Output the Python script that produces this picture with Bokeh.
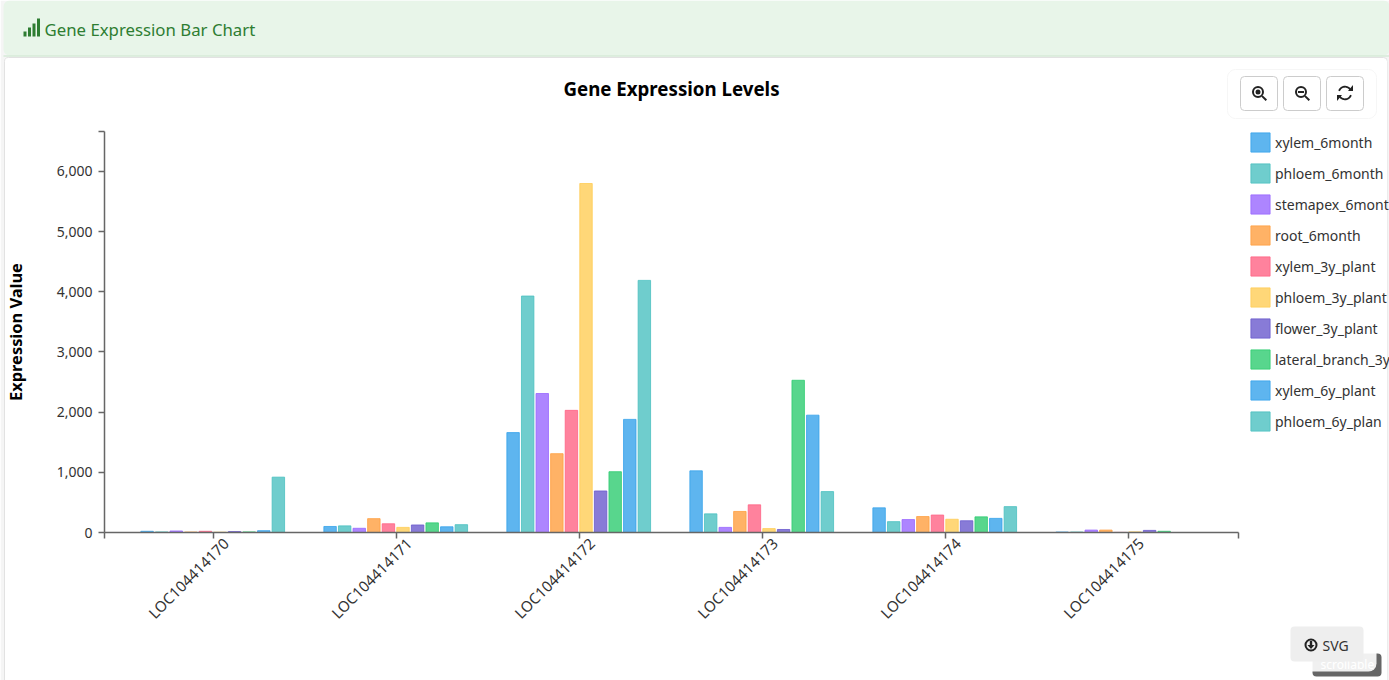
import math
import numpy as np
from bokeh.plotting import figure
from bokeh.embed import file_html
from bokeh.resources import INLINE
from bokeh.models import (Range1d, FixedTicker, NumeralTickFormatter, Legend, LegendItem,
                          BoxAnnotation, PolyAnnotation, Label, LinearAxis)

genes = ["LOC104414170", "LOC104414171", "LOC104414172", "LOC104414173", "LOC104414174", "LOC104414175"]
series_names = ["xylem_6month", "phloem_6month", "stemapex_6month", "root_6month", "xylem_3y_plant",
                "phloem_3y_plant", "flower_3y_plant", "lateral_branch_3y", "xylem_6y_plant", "phloem_6y_plan"]
colors = ["#36A2EB", "#4BC0C0", "#9966FF", "#FF9F40", "#FF6384", "#FFCD56", "#6A5ACD", "#2ECC71", "#36A2EB", "#4BC0C0"]
xylem_6month = [20, 100, 1660, 1025, 410, 8]
phloem_6month = [10, 110, 3930, 310, 180, 8]
stemapex_6month = [25, 70, 2310, 85, 215, 40]
root_6month = [8, 230, 1310, 350, 265, 40]
xylem_3y_plant = [20, 145, 2030, 460, 290, 2]
phloem_3y_plant = [5, 85, 5800, 65, 220, 10]
flower_3y_plant = [15, 125, 690, 50, 195, 35]
lateral_branch_3y = [10, 160, 1010, 2530, 260, 20]
xylem_6y_plant = [30, 95, 1880, 1950, 235, 0]
phloem_6y_plant = [920, 130, 4190, 680, 430, 0]
all_series = [xylem_6month, phloem_6month, stemapex_6month, root_6month, xylem_3y_plant,
              phloem_3y_plant, flower_3y_plant, lateral_branch_3y, xylem_6y_plant, phloem_6y_plant]
y_ticks = [0, 1000, 2000, 3000, 4000, 5000, 6000]

FONT = "Noto Sans"
TXT = "#333333"
AX = "#666666"
Y_MAX = 6664
X_PAD = 0.598
W, H = 1389, 680
PX_X = 183.0      # pixels per gene
PX_Y = 0.06017    # pixels per expression unit
BASE = 532

x0 = -X_PAD - 104 / PX_X
x1 = x0 + W / PX_X
y1 = BASE / PX_Y
y0 = y1 - H / PX_Y
LABEL_SHIFT = 12 / PX_X

p = figure(width=W, height=H, output_backend="svg", toolbar_location=None,
           x_range=Range1d(x0, x1), y_range=Range1d(y0, y1),
           min_border=0, min_border_left=0, min_border_right=0, min_border_top=0, min_border_bottom=0)
p.extra_x_ranges = {"labels": Range1d(x0 - LABEL_SHIFT, x1 - LABEL_SHIFT)}
p.outline_line_color = None
p.grid.visible = False
p.border_fill_color = "white"


def box(l, t, r, b, fill, alpha=1.0, line=None, radius=0, level="annotation", lw=1):
    bx = BoxAnnotation(left=l, right=r, top=t, bottom=b, left_units="canvas", right_units="canvas",
                       top_units="canvas", bottom_units="canvas", fill_color=fill, fill_alpha=alpha,
                       line_color=line, line_alpha=1, line_width=lw, border_radius=radius, level=level,
                       editable=False)
    p.add_layout(bx)
    return bx


def text(x, y, s, size, color=TXT, style="normal", align="left", font=FONT, level="annotation"):
    p.add_layout(Label(x=x, y=y, x_units="canvas", y_units="canvas", text=s, text_font=font,
                       text_font_size=size, text_color=color, text_font_style=style, text_align=align,
                       text_baseline="middle", level=level))


def poly(xs, ys, fill, line=None, lw=1):
    p.add_layout(PolyAnnotation(xs=list(xs), ys=list(ys), xs_units="canvas", ys_units="canvas",
                                fill_color=fill, fill_alpha=1, line_color=line, line_width=lw,
                                line_alpha=1 if line else 0, level="annotation", editable=False))


# page chrome
box(0, 0, W, H, "#F5F5F5", level="underlay")
box(3, 0, W, 55, "#E8F5E9", level="underlay", radius=6)
box(3, 55, W, 56, "#C8E6C9", level="underlay")
box(4, 57, 1387, H + 4, "#FFFFFF", level="underlay", line="#E2E2E2", radius=4)

# header
ICON_GREEN = "#2E7D32"
for l, t, r in [(23, 31, 26), (27.5, 27, 30.5), (32, 23, 35), (36.5, 18, 39.5)]:
    box(l, t, r, 36, ICON_GREEN)
text(44, 28.5, "Gene Expression Bar Chart", "16.8px", ICON_GREEN)
text(671, 87.5, "Gene Expression Levels", "18.7px", "#000000", "bold", "center")

# bars
n = len(all_series)
STEP = 0.0797
WIDTH = 0.068
CENTER_OFFSET = -0.0066
legend_items = []
for j, (name, vals, col) in enumerate(zip(series_names, all_series, colors)):
    xs = [i + CENTER_OFFSET + (j - (n - 1) / 2) * STEP for i in range(len(genes))]
    r = p.vbar(x=xs, top=vals, bottom=0, width=WIDTH, fill_color=col, fill_alpha=0.8,
               line_color=col, line_alpha=0.8, line_width=1)
    legend_items.append(LegendItem(label=name, renderers=[r]))

# axes
x_end = len(genes) - 1 + X_PAD
xa = p.xaxis[0]
xa.fixed_location = 0
xa.bounds = (-X_PAD, x_end)
xa.ticker = FixedTicker(ticks=[-X_PAD] + list(range(len(genes))) + [x_end])
xa.major_label_text_alpha = 0
xa.major_label_text_font_size = "1px"

xl = LinearAxis(x_range_name="labels", fixed_location=0, ticker=FixedTicker(ticks=list(range(len(genes)))),
                major_label_overrides={i: g for i, g in enumerate(genes)},
                major_label_orientation=math.pi / 4, axis_line_color=None, major_tick_line_color=None,
                minor_tick_line_color=None, major_tick_out=6, major_tick_in=0,
                major_label_standoff=2, major_label_text_font=FONT, major_label_text_font_size="15px",
                major_label_text_color=TXT)
p.add_layout(xl, "below")

ya = p.yaxis[0]
ya.fixed_location = -X_PAD
ya.bounds = (0, Y_MAX)
ya.ticker = FixedTicker(ticks=y_ticks + [Y_MAX])
ya.formatter = NumeralTickFormatter(format="0,0")
ya.major_label_overrides = {Y_MAX: ""}
ya.axis_label = "Expression Value"
ya.axis_label_text_font = FONT
ya.axis_label_text_font_size = "16.4px"
ya.axis_label_text_font_style = "bold"
ya.axis_label_text_color = "black"
ya.axis_label_standoff = 27
ya.major_label_text_font = FONT
ya.major_label_text_font_size = "14px"
ya.major_label_text_color = TXT
ya.major_label_standoff = 6
for a in (xa, ya):
    a.axis_line_color = AX
    a.axis_line_width = 1.5
    a.major_tick_line_color = AX
    a.major_tick_line_width = 1.5
    a.major_tick_out = 6
    a.major_tick_in = 0
    a.minor_tick_line_color = None

# legend
legend = Legend(items=legend_items, location=(1248, 247), orientation="vertical",
                background_fill_alpha=0, border_line_color=None, margin=0, padding=0,
                spacing=7, glyph_width=24, glyph_height=24, label_height=24, label_width=100,
                label_standoff=3, label_text_font=FONT, label_text_font_size="14px",
                label_text_color=TXT, label_text_baseline="middle")
p.add_layout(legend, "center")
box(1387, 57, W, H, "#F5F5F5", level="overlay")

# zoom/reset toolbar
box(1227, 69, 1376, 118, "#FFFFFF", line="#F6F6F6", radius=8)
for l in (1240, 1283, 1326):
    box(l, 76, l + 37, 110, "#FFFFFF", line="#CCCCCC", radius=4)
DARK = "#222222"


def loupe(cx, cy):
    box(cx - 5, cy - 5, cx + 5, cy + 5, "#FFFFFF", line=DARK, radius=5, lw=2)
    poly([cx + 3.4, cx + 4.8, cx + 9, cx + 7.6], [cy + 4.8, cy + 3.4, cy + 7.6, cy + 9], DARK)


loupe(1257.5, 91.5)
box(1255, 89, 1260, 94, DARK, radius=3)
loupe(1300.5, 91.5)
box(1297.5, 90.5, 1303.5, 92.5, DARK)

cx, cy, ro, ri = 1344.5, 92.5, 7.2, 5.4
for a0, a1 in [(200, 335), (20, 155)]:
    th = np.radians(np.linspace(a0, a1, 16))
    poly(np.r_[cx + ro * np.cos(th), cx + ri * np.cos(th[::-1])],
         np.r_[cy + ro * np.sin(th), cy + ri * np.sin(th[::-1])], DARK)
poly([cx + 8, cx + 8, cx + 3], [cy - 8, cy - 2, cy - 2], DARK)
poly([cx - 8, cx - 8, cx - 3], [cy + 8, cy + 2, cy + 2], DARK)

# clipped overlay behind the SVG button
box(1312, 653, 1381, 676, "#666666", radius=4)
text(1320, 664, "scrollable", "12px", "#FFFFFF")
box(1277, 620, 1376, 671, "#FFFFFF", alpha=0.9, radius=8)
box(1290, 626, 1363, 661, "#EEEEEE", radius=4)
box(1305, 639, 1316, 650, "#EEEEEE", line=DARK, radius=6, lw=2)
poly([1309.3, 1311.7, 1311.7, 1314, 1310.5, 1307, 1309.3],
     [640.5, 640.5, 644.5, 644.5, 648.5, 644.5, 644.5], DARK)
text(1322, 644.5, "SVG", "14px")

open("out.html", "w").write(file_html(p, INLINE))
